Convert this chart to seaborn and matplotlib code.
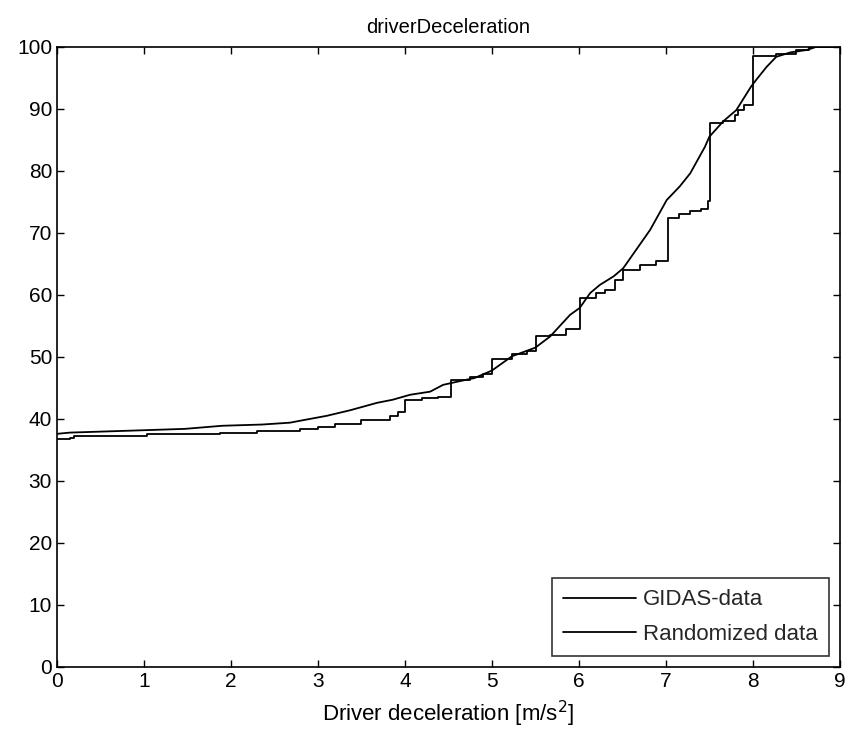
import matplotlib
matplotlib.use("Agg")
import matplotlib.pyplot as plt
import seaborn as sns
import pandas as pd

# GIDAS-data (step ECDF, percent)
gidas_x = [0.0, 0.15, 0.2, 1.03, 1.87, 2.3, 2.79, 3.0, 3.2, 3.5, 3.83, 3.92, 4.0, 4.2, 4.38,
           4.53, 4.75, 4.9, 5.0, 5.23, 5.4, 5.51, 5.67, 5.85, 6.01, 6.2, 6.3, 6.41, 6.51,
           6.7, 6.89, 7.02, 7.15, 7.28, 7.4, 7.49, 7.51, 7.66, 7.79, 7.83, 7.9, 8.0, 8.27,
           8.5, 8.65, 9.0]
gidas_y = [36.7, 37.0, 37.3, 37.6, 37.7, 38.1, 38.4, 38.7, 39.2, 39.8, 40.4, 41.2, 43.0, 43.3, 43.6,
           46.3, 46.8, 47.3, 49.6, 50.4, 50.9, 53.3, 53.6, 54.5, 59.5, 60.3, 60.8, 62.4, 64.0,
           64.8, 65.4, 72.4, 73.0, 73.5, 73.8, 75.1, 87.8, 88.0, 89.0, 89.8, 90.6, 98.5, 98.8,
           99.5, 100.0, 100.0]

# Randomized data
rand_x = [0.0, 0.15, 0.82, 1.47, 1.9, 2.36, 2.68, 2.83, 3.1, 3.37, 3.68, 3.86, 4.06, 4.29,
          4.44, 4.6, 4.8, 5.0, 5.23, 5.5, 5.67, 5.9, 6.01, 6.13, 6.24, 6.4, 6.51, 6.82, 7.01,
          7.16, 7.28, 7.45, 7.5, 7.66, 7.81, 7.98, 8.04, 8.16, 8.27, 8.43, 8.62, 8.73, 9.0]
rand_y = [37.6, 37.8, 38.1, 38.4, 38.9, 39.1, 39.4, 39.8, 40.5, 41.4, 42.6, 43.1, 43.9, 44.4,
          45.5, 46.0, 46.6, 47.8, 50.1, 51.5, 53.3, 56.8, 57.9, 60.3, 61.6, 63.0, 64.3, 70.5, 75.3,
          77.5, 79.6, 83.9, 85.5, 88.0, 89.8, 93.6, 94.7, 96.8, 98.4, 99.1, 99.5, 100.0, 100.0]

series_names = ["GIDAS-data", "Randomized data"]
x_ticks = list(range(0, 10))
y_ticks = list(range(0, 101, 10))

sns.set_theme(style="white")
plt.rcParams['font.family'] = ['Liberation Sans', 'DejaVu Sans']

fig = plt.figure(figsize=(8.5, 7.44), dpi=100)
ax = fig.add_axes([0.067, 0.1035, 0.921, 0.8335])

df_g = pd.DataFrame({"x": gidas_x, "y": gidas_y})
df_r = pd.DataFrame({"x": rand_x, "y": rand_y})

sns.lineplot(data=df_g, x="x", y="y", ax=ax, color="black", lw=1.3,
             drawstyle="steps-post", estimator=None, sort=False, label=series_names[0])
sns.lineplot(data=df_r, x="x", y="y", ax=ax, color="black", lw=1.3,
             estimator=None, sort=False, label=series_names[1])

ax.set_xlim(0, 9)
ax.set_ylim(0, 100)
ax.set_xticks(x_ticks)
ax.set_yticks(y_ticks)
ax.tick_params(direction="in", length=5, width=1, colors="black", labelsize=15,
               top=True, right=True, bottom=True, left=True)
for s in ax.spines.values():
    s.set_color("black")
    s.set_linewidth(1.2)
ax.set_xlabel("Driver deceleration [m/s$^2$]", fontsize=16, color="black", labelpad=6)
ax.set_ylabel("")
ax.set_title("driverDeceleration", fontsize=14.5, color="black", pad=10)

leg = ax.legend(loc="lower right", fontsize=16, frameon=True, fancybox=False,
                edgecolor="black", handlelength=3.3, borderaxespad=0.5,
                borderpad=0.5, labelspacing=0.6, handletextpad=0.3)
leg.get_frame().set_linewidth(1.2)

fig.savefig("out.png", dpi=100)
